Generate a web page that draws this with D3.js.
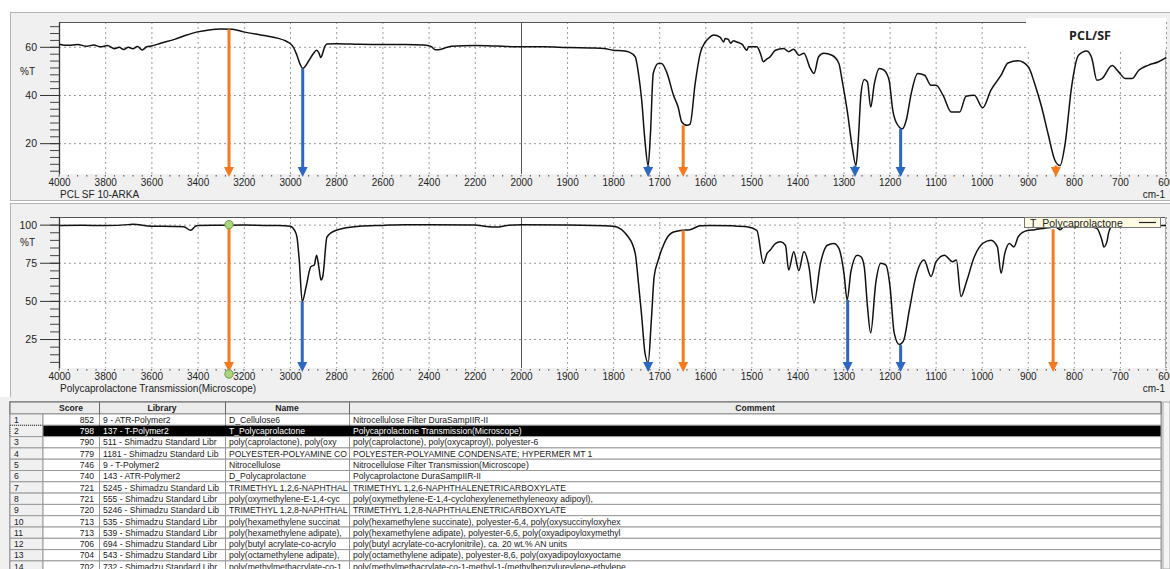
<!DOCTYPE html>
<html>
<head>
<meta charset="utf-8">
<script src="https://cdn.jsdelivr.net/npm/d3@7"></script>
<style>
  body { margin: 0; background: #fff; }
  svg { display: block; font-family: "Liberation Sans", Arial, sans-serif; }
</style>
</head>
<body>
<div id="chart"></div>
<script>
// ---- data ----
// top spectrum: PCL SF 10-ARKA  [wavenumber, %T]
const topSpectrum = [
  [4000,61.1],[3960,60.6],[3920,61],[3880,60.2],[3850,60.8],[3820,60],[3790,60.5],[3760,59.2],[3740,59.8],[3720,58.9],
  [3700,59.8],[3680,59.2],[3660,60.1],[3640,58.7],[3620,60],[3600,60.3],[3560,61.5],[3500,63.1],[3450,64.8],[3400,66.2],
  [3350,67],[3300,67.4],[3250,67.3],[3200,66.2],[3150,65.3],[3100,64.5],[3050,63.5],[3020,62.5],[3000,61.4],[2985,59.8],
  [2970,56.5],[2955,52.5],[2945,51],[2935,51.8],[2920,54],[2900,57],[2885,58.6],[2875,57.5],[2867,55.6],[2858,57.5],
  [2850,60],[2840,61.2],[2800,61.3],[2700,61.1],[2600,61],[2500,61],[2420,60.8],[2390,60.2],[2370,58.8],[2350,58.9],
  [2320,59.8],[2300,60.2],[2200,60.5],[2100,60.3],[2000,60],[1950,60],[1900,59.7],[1850,59.5],[1820,59.3],[1800,58.6],
  [1780,58.4],[1765,57.8],[1752,55.8],[1745,48.9],[1738,37.8],[1731,21.1],[1724,10.7],[1719,24],[1713,48.9],[1702,53.1],
  [1695,53.1],[1684,49.6],[1669,39.9],[1659,35],[1651,28.8],[1640,27.4],[1633,27.9],[1622,44.7],[1611,57.3],[1600,62],
  [1593,63.5],[1582,64.9],[1568,64],[1560,62],[1557,63.5],[1550,63.1],[1545,61.5],[1539,62.5],[1532,62],[1520,61],
  [1510,58.6],[1506,60],[1488,60],[1480,57],[1474,53.8],[1466,55],[1459,55.9],[1448,58.6],[1430,59.3],[1419,58],
  [1408,59],[1397,56.5],[1386,57.3],[1372,51],[1364,48.9],[1354,55.9],[1343,57.3],[1325,56.5],[1310,53.1],[1303,46.1],
  [1292,33.6],[1281,18.3],[1273,10.7],[1268,21.1],[1262,40.6],[1255,46.4],[1248,45.4],[1241,35],[1233,44.7],[1222,51],
  [1212,50.3],[1201,46.1],[1193,33.6],[1186,28.8],[1172,26],[1164,29.4],[1153,40.6],[1139,48.9],[1124,48.2],[1110,44],
  [1099,44],[1084,39.9],[1066,32.9],[1048,32.9],[1034,39.5],[1016,39.9],[998,34.7],[980,42],[958,48.2],[943,53.3],
  [921,54.2],[899,51.7],[885,44.7],[870,35],[856,23.9],[841,12.8],[830,10.7],[819,19.7],[805,43.3],[790,56.5],
  [772,58.3],[761,55.3],[750,46.1],[739,46.8],[717,52.2],[703,49.6],[688,46.8],[674,46.8],[659,50.3],[638,52.4],
  [616,53.8],[600,55.5]
];

// bottom spectrum: T_Polycaprolactone  [wavenumber, %T]
const bottomSpectrum = [
  [4000,99.5],[3900,99.6],[3800,99.4],[3700,100],[3680,100.3],[3600,99],[3500,98.8],[3460,98.6],[3430,96.3],[3410,98.8],
  [3400,99.5],[3300,99.6],[3200,99.7],[3100,99.5],[3050,99.5],[3000,99],[2980,96.3],[2970,91.9],[2960,76.8],[2947,49.6],
  [2930,59.4],[2910,72.4],[2895,73.5],[2885,80],[2875,72],[2866,63.7],[2858,66],[2840,91.9],[2800,96.3],[2700,98.9],
  [2600,99.5],[2500,100],[2400,100],[2200,99.8],[2150,98.8],[2105,98.4],[2060,99.5],[2000,100],[1900,99.8],[1800,99],
  [1767,91.9],[1752,81],[1745,61.6],[1738,39.9],[1731,16],[1724,9.5],[1717,37.7],[1711,65.9],[1702,76.8],[1695,83.3],
  [1684,90.9],[1669,95.2],[1650,96.3],[1633,96.7],[1611,99.2],[1590,99.5],[1540,99.2],[1510,98.6],[1488,96.3],[1474,74.6],
  [1466,81],[1459,83.3],[1448,87.6],[1437,88.7],[1426,86.5],[1419,70.2],[1408,82.2],[1397,69.8],[1386,82.2],[1375,72.4],
  [1364,48.6],[1350,74.6],[1335,86.5],[1321,87.6],[1310,84.4],[1299,68.1],[1292,50.7],[1284,69.1],[1270,80],[1262,78.9],
  [1255,72.4],[1248,46.4],[1241,29],[1230,61.6],[1219,74.6],[1208,73.5],[1199,59.4],[1190,29],[1179,21.4],[1170,23.6],
  [1157,44.2],[1143,65.9],[1125,76.8],[1110,66],[1099,75.7],[1081,80],[1063,75.7],[1055,76.8],[1045,52.9],[1034,61.6],
  [1016,78.9],[998,87.6],[980,89.8],[966,85.4],[958,68.1],[950,81],[940,87.6],[930,85.4],[921,91.9],[907,95.6],
  [885,96.7],[856,98],[840,98.5],[830,96.7],[820,99],[760,98.5],[750,97.6],[739,89.8],[735,85.4],[728,89],
  [725,94.1],[717,99],[700,99.5],[600,99.5]
];

// arrows: [wavenumber, start %T, colour key]
const topArrows = [[3264,67.3,"o"],[2945,51,"b"],[1724,10.7,"b"],[1648,27.4,"o"],[1275,10.7,"b"],[1176,26,"b"],[839,10.7,"o"]];
const bottomArrows = [[3264,100,"o"],[2947,49.6,"b"],[1724,9.5,"b"],[1648,96.3,"o"],[1291,50.7,"b"],[1176,21,"b"],[845,97,"o"]];
const markerWn = 3264;

// tick values
const xMajorLeft = d3.range(4000, 1999, -200);
const xMajorRight = d3.range(1900, 599, -100);
const topYTicks = [20, 40, 60];
const bottomYTicks = [25, 50, 75, 100];

// hit list table
const tableHeader = ["Score", "Library", "Name", "Comment"];
const hitScores = [852, 798, 790, 779, 746, 740, 721, 721, 720, 713, 713, 706, 704, 702];
const hitLibraries = [
  "9 - ATR-Polymer2", "137 - T-Polymer2", "511 - Shimadzu Standard Libr", "1181 - Shimadzu Standard Lib",
  "9 - T-Polymer2", "143 - ATR-Polymer2", "5245 - Shimadzu Standard Lib", "555 - Shimadzu Standard Libr",
  "5246 - Shimadzu Standard Lib", "535 - Shimadzu Standard Libr", "539 - Shimadzu Standard Libr",
  "694 - Shimadzu Standard Libr", "543 - Shimadzu Standard Libr", "732 - Shimadzu Standard Libr"
];
const hitNames = [
  "D_Cellulose6", "T_Polycaprolactone", "poly(caprolactone), poly(oxy", "POLYESTER-POLYAMINE CO",
  "Nitrocellulose", "D_Polycaprolactone", "TRIMETHYL 1,2,6-NAPHTHAL", "poly(oxymethylene-E-1,4-cyc",
  "TRIMETHYL 1,2,8-NAPHTHAL", "poly(hexamethylene succinat", "poly(hexamethylene adipate),",
  "poly(butyl acrylate-co-acrylo", "poly(octamethylene adipate),", "poly(methylmethacrylate-co-1"
];
const hitComments = [
  "Nitrocellulose Filter  DuraSampIIR-II",
  "Polycaprolactone  Transmission(Microscope)",
  "poly(caprolactone), poly(oxycaproyl), polyester-6",
  "POLYESTER-POLYAMINE CONDENSATE; HYPERMER MT 1",
  "Nitrocellulose Filter  Transmission(Microscope)",
  "Polycaprolactone  DuraSampIIR-II",
  "TRIMETHYL 1,2,6-NAPHTHALENETRICARBOXYLATE",
  "poly(oxymethylene-E-1,4-cyclohexylenemethyleneoxy adipoyl),",
  "TRIMETHYL 1,2,8-NAPHTHALENETRICARBOXYLATE",
  "poly(hexamethylene succinate), polyester-6,4, poly(oxysuccinyloxyhex",
  "poly(hexamethylene adipate), polyester-6,6, poly(oxyadipoyloxymethyl",
  "poly(butyl acrylate-co-acrylonitrile), ca. 20 wt.% AN units",
  "poly(octamethylene adipate), polyester-8,6, poly(oxyadipoyloxyoctame",
  "poly(methylmethacrylate-co-1-methyl-1-(methylbenzylureylene-ethylene"
];
const selectedRow = 1;

const colors = { o: "#f57a1f", b: "#2b68c4" };

const W = 1170, H = 569;
const plotLeft = 59, plotRight = 1166;

const svg = d3.select("#chart").append("svg").attr("width", W).attr("height", H);
svg.append("rect").attr("width", W).attr("height", H).attr("fill", "#fff");

// split wavenumber axis: 4000-2000 compressed, 2000-600 expanded
const x = d3.scaleLinear().domain([4000, 2000, 600]).range([plotLeft, 521, plotRight]);

function drawPanel(cfg) {
  const y = d3.scaleLinear().domain(cfg.domain).range([cfg.bottom, cfg.top]);

  // grey panel frame
  svg.append("rect")
    .attr("x", 10.5).attr("y", cfg.frameTop + 0.5)
    .attr("width", W).attr("height", cfg.frameH)
    .attr("fill", "#f0f0f0").attr("stroke", "#b4b4b4");

  svg.append("rect")
    .attr("x", plotLeft).attr("y", cfg.top)
    .attr("width", plotRight - plotLeft).attr("height", cfg.bottom - cfg.top)
    .attr("fill", "#fff");

  const g = svg.append("g");

  // dotted grid
  const xGrid = xMajorLeft.concat(xMajorRight).filter((d) => d !== 4000);
  g.selectAll(".vgrid").data(xGrid).enter().append("line")
    .attr("x1", (d) => x(d) + 0.5).attr("x2", (d) => x(d) + 0.5)
    .attr("y1", cfg.top).attr("y2", cfg.bottom)
    .attr("stroke", (d) => (d === 2000 ? "#555" : "#9a9a9a"))
    .attr("stroke-width", 1)
    .attr("stroke-dasharray", (d) => (d === 2000 ? null : "2,3"));
  g.selectAll(".hgrid").data(cfg.yTicks).enter().append("line")
    .attr("x1", plotLeft).attr("x2", plotRight)
    .attr("y1", (d) => y(d) + 0.5).attr("y2", (d) => y(d) + 0.5)
    .attr("stroke", "#9a9a9a").attr("stroke-dasharray", "2,3");

  // plot border (top + right)
  g.append("line").attr("x1", plotLeft).attr("x2", cfg.borderEnd)
    .attr("y1", cfg.top + 0.5).attr("y2", cfg.top + 0.5).attr("stroke", "#555").attr("stroke-width", 1.2);
  g.append("line").attr("x1", plotRight - 0.5).attr("x2", plotRight - 0.5)
    .attr("y1", cfg.top).attr("y2", cfg.bottom).attr("stroke", "#aaa");

  // y axis
  const minor = [];
  for (let v = cfg.yTicks[0]; v <= cfg.domain[1]; v += cfg.minorStep) minor.push(v);
  for (let v = cfg.yTicks[0] - cfg.minorStep; v >= cfg.domain[0]; v -= cfg.minorStep) minor.push(v);
  const yMinor = g.append("g").attr("transform", `translate(${plotLeft},0)`)
    .call(d3.axisLeft(y).tickValues(minor).tickSize(9).tickFormat(""));
  yMinor.select(".domain").remove();
  yMinor.selectAll("line").attr("stroke", "#444");

  const yAxis = g.append("g").attr("transform", `translate(${plotLeft},0)`)
    .call(d3.axisLeft(y).tickValues(cfg.yTicks).tickSize(19).tickPadding(3).tickSizeOuter(0));
  yAxis.select(".domain").attr("stroke", "#333").attr("stroke-width", 1.3);
  yAxis.selectAll("line").attr("stroke", "#333");
  yAxis.selectAll("text").attr("font-size", 10.5).attr("fill", "#222")
    .attr("font-family", "Liberation Sans, Arial, sans-serif");

  g.append("text").attr("x", 20).attr("y", cfg.pctY)
    .attr("font-size", 10).attr("fill", "#222").text("%T");

  // x axis
  const xMinor = d3.range(4000, 2000, -40).concat(d3.range(2000, 599, -20));
  g.selectAll(".xminor").data(xMinor).enter().append("rect")
    .attr("x", (d) => x(d) - 0.5).attr("y", cfg.bottom + 1)
    .attr("width", 1.2).attr("height", 1.6).attr("fill", "#666");

  const xAxis = g.append("g").attr("transform", `translate(0,${cfg.bottom})`)
    .call(d3.axisBottom(x).tickValues(xMajorLeft.concat(xMajorRight))
      .tickFormat(d3.format("d")).tickSize(0).tickPadding(5));
  xAxis.select(".domain").remove();
  xAxis.selectAll("text").attr("font-size", 10).attr("fill", "#222")
    .attr("font-family", "Liberation Sans, Arial, sans-serif");

  g.append("text").attr("x", 60).attr("y", cfg.bottom + 23.5)
    .attr("font-size", 10).attr("fill", "#222").text(cfg.label);
  g.append("text").attr("x", 1165).attr("y", cfg.bottom + 23.5).attr("text-anchor", "end")
    .attr("font-size", 10).attr("fill", "#222").text("cm-1");

  // spectrum
  const clipId = "clip" + cfg.top;
  svg.append("clipPath").attr("id", clipId).append("rect")
    .attr("x", plotLeft).attr("y", cfg.top).attr("width", plotRight - plotLeft).attr("height", cfg.bottom - cfg.top);

  const line = d3.line()
    .x((d) => x(d[0]))
    .y((d) => y(d[1]))
    .curve(d3.curveMonotoneX);

  g.append("path")
    .datum(cfg.data)
    .attr("clip-path", `url(#${clipId})`)
    .attr("fill", "none")
    .attr("stroke", "#111")
    .attr("stroke-width", 1.5)
    .attr("stroke-linejoin", "round")
    .attr("d", line);

  return { g, y };
}

function drawArrows(g, y, arrows, tipY) {
  arrows.forEach(([wn, start, c]) => {
    const ax = x(wn);
    g.append("line")
      .attr("x1", ax).attr("x2", ax)
      .attr("y1", y(start)).attr("y2", tipY - 8)
      .attr("stroke", colors[c]).attr("stroke-width", 3);
    g.append("path")
      .attr("d", `M${ax - 5},${tipY - 10}L${ax + 5},${tipY - 10}L${ax},${tipY}Z`)
      .attr("fill", colors[c]);
  });
}

// ---- top panel ----
const topPanel = drawPanel({
  frameTop: 12, frameH: 188, top: 22, bottom: 174,
  domain: [7.2, 70.3], yTicks: topYTicks, minorStep: 20 / 7,
  pctY: 75, label: "PCL SF 10-ARKA", data: topSpectrum, borderEnd: 1026
});
drawArrows(topPanel.g, topPanel.y, topArrows, 177);

svg.append("rect").attr("x", 1026).attr("y", 18).attr("width", 140).attr("height", 32).attr("fill", "#fff");
svg.append("text").attr("x", 1090).attr("y", 40).attr("text-anchor", "middle")
  .attr("font-size", 12.5).attr("font-weight", "bold").attr("fill", "#222")
  .attr("font-family", "Open Sans, sans-serif").text("PCL/SF");

// ---- bottom panel ----
const botPanel = drawPanel({
  frameTop: 203, frameH: 194, top: 217, bottom: 368,
  domain: [6, 105], yTicks: bottomYTicks, minorStep: 5,
  pctY: 246, label: "Polycaprolactone  Transmission(Microscope)", data: bottomSpectrum, borderEnd: plotRight
});
drawArrows(botPanel.g, botPanel.y, bottomArrows, 372);

// green markers
[botPanel.y(100), 374].forEach((cy) => {
  botPanel.g.append("circle").attr("cx", x(markerWn)).attr("cy", cy).attr("r", 4.2)
    .attr("fill", "#a9d67a").attr("stroke", "#6e9a50").attr("stroke-width", 1);
});

// legend
const leg = svg.append("g").attr("transform", "translate(1024,217)");
leg.append("rect").attr("x", 0.5).attr("y", 0.5).attr("width", 136).attr("height", 10)
  .attr("fill", "#fffbe3").attr("stroke", "#777");
leg.append("text").attr("x", 6).attr("y", 9.5).attr("font-size", 10.5).attr("fill", "#222")
  .text("T_Polycaprolactone");
leg.append("line").attr("x1", 115).attr("x2", 132).attr("y1", 5.5).attr("y2", 5.5)
  .attr("stroke", "#222").attr("stroke-width", 1.2);

// ---- hit list table ----
const tTop = 402, headH = 12, rowH = 11.3;
const cols = [10, 43, 99, 225, 349, 1161];
const tbl = svg.append("g").attr("font-size", 8.6).attr("fill", "#111");

tbl.append("rect").attr("x", 0).attr("y", 397).attr("width", W).attr("height", H - 397).attr("fill", "#f0f0f0");
tbl.append("rect").attr("x", cols[0]).attr("y", tTop).attr("width", cols[5] - cols[0]).attr("height", H - tTop)
  .attr("fill", "#fff").attr("stroke", "#666");

// header
tbl.append("rect").attr("x", cols[0]).attr("y", tTop).attr("width", cols[5] - cols[0]).attr("height", headH)
  .attr("fill", "#ececec").attr("stroke", "#666");
tableHeader.forEach((h, i) => {
  tbl.append("text").attr("x", (cols[i + 1] + cols[i + 2]) / 2).attr("y", tTop + 9)
    .attr("text-anchor", "middle").attr("font-weight", "bold").attr("fill", "#222").text(h);
});

hitScores.forEach((s, i) => {
  const ry = tTop + headH + i * rowH;
  const sel = i === selectedRow;
  const row = tbl.append("g");
  row.append("rect").attr("x", cols[0]).attr("y", ry).attr("width", cols[1] - cols[0]).attr("height", rowH)
    .attr("fill", "#f0f0f0").attr("stroke", sel ? "#333" : "#999")
    .attr("stroke-dasharray", sel ? "1,1" : null);
  row.append("rect").attr("x", cols[1]).attr("y", ry).attr("width", cols[5] - cols[1]).attr("height", rowH)
    .attr("fill", sel ? "#000" : "#fff").attr("stroke", "#999");
  const tc = sel ? "#fff" : "#1a1a1a";
  row.append("text").attr("x", cols[0] + 4).attr("y", ry + 8.8).attr("fill", "#222").text(i + 1);
  row.append("text").attr("x", cols[2] - 5).attr("y", ry + 8.8).attr("text-anchor", "end").attr("fill", tc).text(s);
  row.append("text").attr("x", cols[2] + 4).attr("y", ry + 8.8).attr("fill", tc).text(hitLibraries[i]);
  row.append("text").attr("x", cols[3] + 4).attr("y", ry + 8.8).attr("fill", tc).text(hitNames[i]);
  row.append("text").attr("x", cols[4] + 4).attr("y", ry + 8.8).attr("fill", tc).text(hitComments[i]);
  [cols[2], cols[3], cols[4]].forEach((cx) => {
    row.append("line").attr("x1", cx + 0.5).attr("x2", cx + 0.5).attr("y1", ry).attr("y2", ry + rowH)
      .attr("stroke", sel ? "#000" : "#999");
  });
});
[cols[2], cols[3], cols[4]].forEach((cx) => {
  tbl.append("line").attr("x1", cx + 0.5).attr("x2", cx + 0.5).attr("y1", tTop).attr("y2", tTop + headH)
    .attr("stroke", "#666");
});

// scrollbar
tbl.append("rect").attr("x", cols[5] + 2).attr("y", tTop).attr("width", W - cols[5] - 2).attr("height", H - tTop)
  .attr("fill", "#f4f4f4").attr("stroke", "#aaa");
</script>
</body>
</html>
